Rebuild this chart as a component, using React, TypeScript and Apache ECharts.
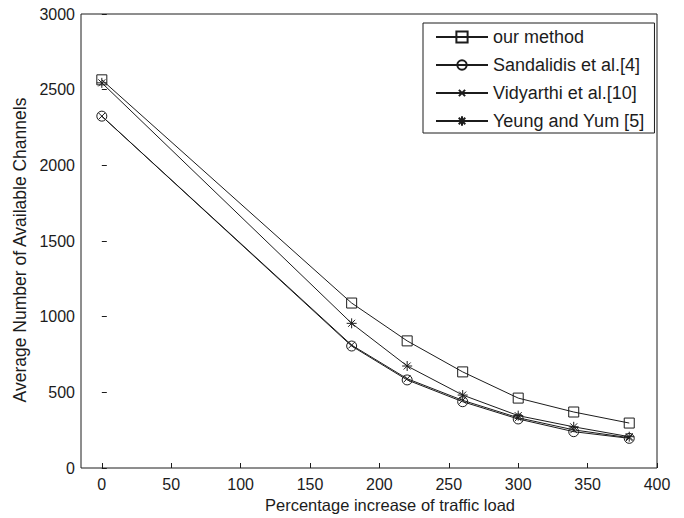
import React, { useEffect, useRef } from "react";
import * as echarts from "echarts";

const xValues = [0, 180, 220, 260, 300, 340, 380];
const ourMethod = [2565, 1090, 840, 635, 462, 370, 297];
const sandalidis = [2325, 806, 582, 438, 324, 240, 196];
const vidyarthi = [2325, 812, 590, 447, 332, 252, 200];
const yeung = [2545, 956, 674, 482, 346, 272, 207];
const xTicks = [0, 50, 100, 150, 200, 250, 300, 350, 400];
const seriesNames = ["our method", "Sandalidis et al.[4]", "Vidyarthi et al.[10]", "Yeung and Yum [5]"];
const xTitle = "Percentage increase of traffic load";
const yTitle = "Average Number of Available Channels";

const FONT = "'Liberation Sans', Arial, Helvetica, sans-serif";
const INK = "#1c1c1c";

const SQUARE = "path://M0,0L10,0L10,10L0,10Z";
const CIRCLE = "path://M-1,-1M11,11M10,5A5,5,0,1,1,0,5A5,5,0,1,1,10,5Z";
const CROSS = "path://M-4,-4M14,14M0,0L10,10M10,0L0,10";
const STAR = "path://M-1,-1M11,11M0,5L10,5M5,0L5,10M1.5,1.5L8.5,8.5M8.5,1.5L1.5,8.5";

function pairs(ys: number[]) {
  return xValues.map((x, i) => [x, ys[i]]);
}

export default function App() {
  const ref = useRef<HTMLDivElement>(null);
  useEffect(() => {
    if (!ref.current) return;
    const chart = echarts.init(ref.current, undefined, { renderer: "svg" });
    const mk = (name: string, data: number[], symbol: string, size: number) => ({
      name,
      type: "line",
      data: pairs(data),
      symbol,
      symbolSize: size,
      showSymbol: true,
      lineStyle: { color: INK, width: 1 },
      itemStyle: { color: "none", borderColor: INK, borderWidth: 1 },
      emphasis: { disabled: true },
    });
    chart.setOption({
      animation: false,
      backgroundColor: "#fff",
      textStyle: { fontFamily: FONT },
      grid: {
        left: 81,
        top: 14,
        right: 27,
        bottom: 50,
        show: true,
        borderColor: INK,
        borderWidth: 1,
        backgroundColor: "transparent",
      },
      legend: {
        orient: "vertical",
        left: 423,
        top: 23,
        padding: [5, 10, 3, 12],
        borderColor: INK,
        borderWidth: 1,
        backgroundColor: "#fff",
        itemWidth: 52,
        itemHeight: 14,
        itemGap: 10,
        selectedMode: false,
        data: seriesNames,
        textStyle: { fontFamily: FONT, fontSize: 18, color: INK, lineHeight: 14 },
      },
      xAxis: {
        type: "value",
        min: -15,
        max: 400,
        axisLine: { show: false },
        splitLine: { show: false },
        axisTick: { show: true, inside: true, length: 5, lineStyle: { color: INK }, customValues: xTicks },
        axisLabel: { fontFamily: FONT, fontSize: 16, color: INK, margin: 8, customValues: xTicks },
      },
      yAxis: {
        type: "value",
        min: 0,
        max: 3000,
        interval: 500,
        axisLine: { show: false },
        splitLine: { show: false },
        axisTick: { show: true, inside: true, length: 5, lineStyle: { color: INK } },
        axisLabel: { fontFamily: FONT, fontSize: 16, color: INK, margin: 6, formatter: (v: number) => String(v) },
      },
      graphic: [
        {
          type: "text",
          x: 390,
          y: 505,
          style: { text: xTitle, font: `16.5px ${FONT}`, fill: INK, align: "center", verticalAlign: "middle" },
        },
        {
          type: "text",
          x: 20,
          y: 250,
          rotation: Math.PI / 2,
          style: { text: yTitle, font: `17.5px ${FONT}`, fill: INK, align: "center", verticalAlign: "middle" },
        },
      ],
      series: [
        mk(seriesNames[0], ourMethod, SQUARE, 10),
        mk(seriesNames[1], sandalidis, CIRCLE, 12),
        mk(seriesNames[2], vidyarthi, CROSS, 12),
        mk(seriesNames[3], yeung, STAR, 12),
      ],
    });
    return () => chart.dispose();
  }, []);
  return <div ref={ref} style={{ position: "absolute", left: 0, top: 0, width: 684, height: 518 }} />;
}
